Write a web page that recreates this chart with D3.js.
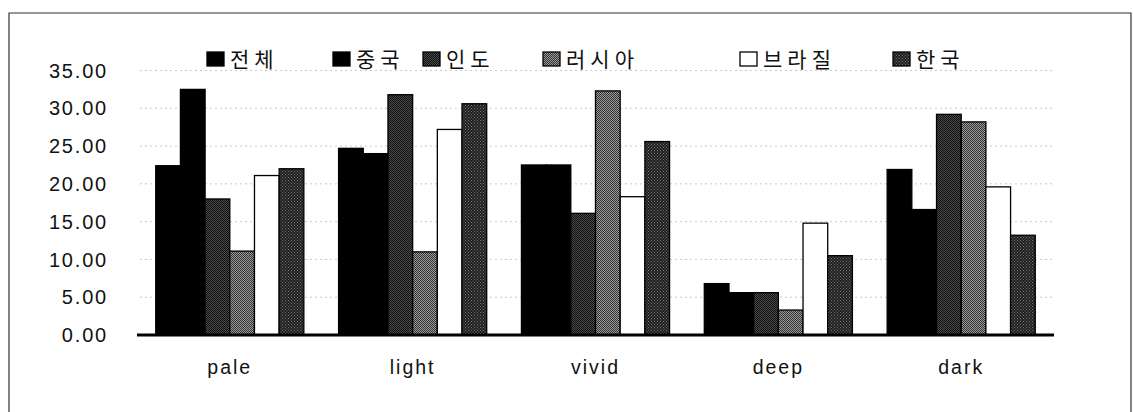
<!DOCTYPE html>
<html><head><meta charset="utf-8">
<script src="https://cdn.jsdelivr.net/npm/d3@7/dist/d3.min.js"></script>
<style>body{margin:0;background:#fff}svg{display:block}</style>
</head><body><svg id="c" width="1133" height="412"></svg>
<script>
const categories = ["pale","light","vivid","deep","dark"];
const seriesNames = ["전체","중국","인도","러시아","브라질","한국"];
const v_total  = [22.4, 24.7, 22.5, 6.8, 21.9];
const v_china  = [32.5, 24.0, 22.5, 5.6, 16.6];
const v_india  = [18.0, 31.8, 16.1, 5.6, 29.2];
const v_russia = [11.1, 11.0, 32.3, 3.3, 28.2];
const v_brazil = [21.1, 27.2, 18.3, 14.8, 19.6];
const v_korea  = [22.0, 30.6, 25.6, 10.5, 13.2];
const yTicks = [0,5,10,15,20,25,30,35];

const seriesValues = [v_total, v_china, v_india, v_russia, v_brazil, v_korea];
const svg = d3.select("#c");
const defs = svg.append("defs");
function pat(id, base, dot, size){
  const p = defs.append("pattern").attr("id",id).attr("patternUnits","userSpaceOnUse").attr("width",size).attr("height",size);
  p.append("rect").attr("width",size).attr("height",size).attr("fill",base);
  p.append("rect").attr("width",1).attr("height",1).attr("fill",dot);
  p.append("rect").attr("x",size/2).attr("y",size/2).attr("width",1).attr("height",1).attr("fill",dot);
}
pat("pIndia","#4a4a4a","#111",2);
pat("pRussia","#9a9a9a","#333",2);
pat("pKorea","#1e1e1e","#777",3);
const fills = ["#000","#000","url(#pIndia)","url(#pRussia)","#fff","url(#pKorea)"];

// frame
svg.append("path").attr("d","M9,420 L9,13 L1131,13 L1131,420").attr("fill","none").attr("stroke","#333").attr("stroke-width",1.2);

const x = d3.scaleBand().domain(categories).range([138,1053]).paddingInner(0.19).paddingOuter(0.097);
const xs = d3.scaleBand().domain(seriesNames).range([0,x.bandwidth()]).padding(0);
const y = d3.scaleLinear().domain([0,35]).range([335,70.5]);

// grid
svg.append("g").selectAll("line").data(yTicks.filter(d=>d>0)).join("line")
  .attr("x1",140).attr("x2",1053).attr("y1",d=>y(d)).attr("y2",d=>y(d))
  .attr("stroke","#bbb").attr("stroke-width",0.8).attr("stroke-dasharray","2,3");

// y labels
svg.append("g").selectAll("text").data(yTicks).join("text")
  .attr("x",108).attr("y",d=>y(d)).attr("dy","0.36em").attr("text-anchor","end")
  .attr("font-family","Liberation Sans, Arial, sans-serif").attr("font-size",20).attr("letter-spacing","1.8px")
  .attr("fill","#111").text(d=>d.toFixed(2));

// bars
const data = [];
categories.forEach((c,i)=>seriesNames.forEach((s,j)=>data.push({c,s,j,v:seriesValues[j][i]})));
svg.append("g").selectAll("rect").data(data).join("rect")
  .attr("x",d=>x(d.c)+xs(d.s)).attr("width",xs.bandwidth())
  .attr("y",d=>y(d.v)).attr("height",d=>y(0)-y(d.v))
  .attr("fill",d=>fills[d.j]).attr("stroke","#000").attr("stroke-width",1.3);

// axis line
svg.append("line").attr("x1",137).attr("x2",1054).attr("y1",y(0)).attr("y2",y(0))
  .attr("stroke","#000").attr("stroke-width",3);

// x labels
svg.append("g").selectAll("text").data(categories).join("text")
  .attr("x",d=>x(d)+x.bandwidth()/2).attr("y",374).attr("text-anchor","middle")
  .attr("font-family","Liberation Sans, Arial, sans-serif").attr("font-size",19.5).attr("letter-spacing","2px")
  .attr("fill","#111").text(d=>d);

// legend
const legX = [207,333,423,543,740,893];
const lg = svg.append("g").selectAll("g").data(seriesNames).join("g")
  .attr("transform",(d,i)=>`translate(${legX[i]},52)`);
lg.append("rect").attr("width",17).attr("height",14).attr("fill",(d,i)=>fills[i]).attr("stroke","#000").attr("stroke-width",1.3);
lg.append("text").attr("x",23).attr("y",7.5).attr("dy","0.38em")
  .attr("font-family","Noto Sans CJK KR, sans-serif").attr("font-size",21).attr("letter-spacing","5px")
  .attr("fill","#111").text(d=>d);
</script></body></html>
